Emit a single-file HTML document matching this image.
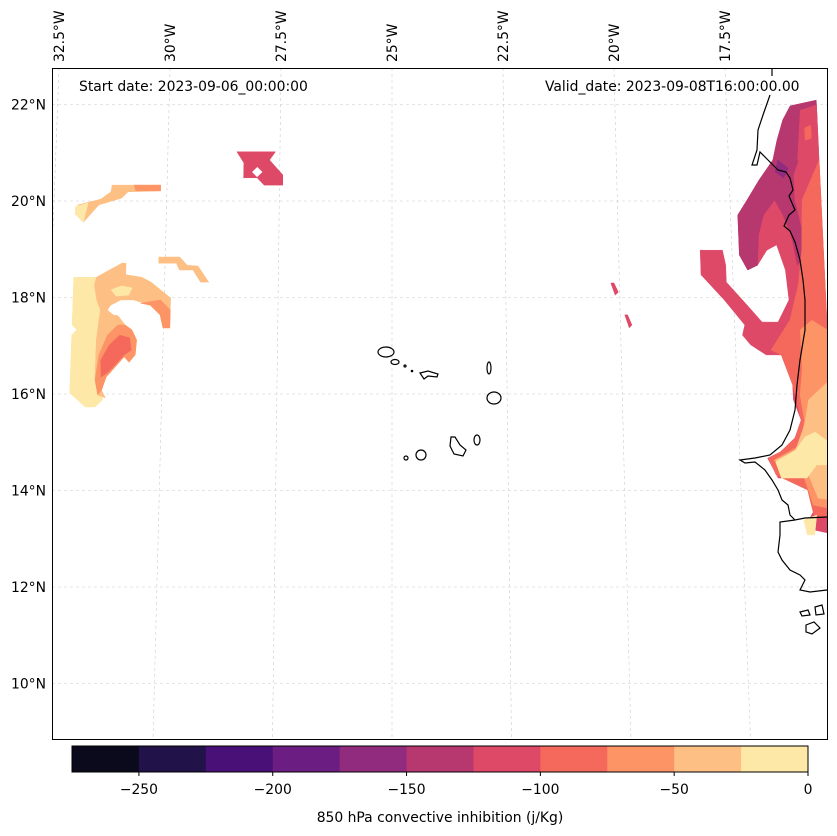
<!DOCTYPE html>
<html><head><meta charset="utf-8"><style>
html,body{margin:0;padding:0;background:#fff;}
svg{display:block;font-family:"DejaVu Sans","Liberation Sans",sans-serif;}
</style></head><body>
<svg id="chart" width="837" height="836" viewBox="0 0 837 836" xmlns="http://www.w3.org/2000/svg">
<defs><clipPath id="mapclip"><rect x="52.5" y="68.5" width="775" height="671"/></clipPath></defs>
<g id="grid" clip-path="url(#mapclip)"></g>
<g id="fills" clip-path="url(#mapclip)"></g>
<g id="coast" clip-path="url(#mapclip)" fill="none" stroke="#000" stroke-width="1.2">
<path d="M772,68 L772,76 M770,95 L763,115 L758,130 L757,150 L752,165 L757,165 L760,152 L768,160 L778,170 L786,172 L790,178 L793,190 L789,196 L795,210 L789,215 L784,226 L790,231 L795,242 L800,260 L803,280 L805,300 L805,330 L800,360 L797,385 L795,410 L790,430 L782,445 L770,455 L755,458 L740,460 L745,463 L755,462 L765,470 L772,480 L778,490 L782,500 L788,505 L790,515 L795,520 L805,518 L827,517 M795,520 L780,522 L780,535 L778,552 L782,560 L790,570 L800,575 L805,580 L800,590 L810,592 L827,590"/>
<path d="M800,612 L808,610 L810,615 L802,616 Z M815,607 L822,605 L824,614 L816,615 Z M806,625 L814,622 L820,628 L812,634 L806,632 Z"/>
</g>
<g id="islands" fill="none" stroke="#000" stroke-width="1.2">
<ellipse cx="386" cy="352" rx="8" ry="5"/>
<ellipse cx="395" cy="362" rx="4" ry="2.5"/>
<circle cx="405" cy="366" r="1"/>
<circle cx="412" cy="371" r="0.7"/>
<path d="M420,373 L428,371 L438,374 L437,377 L428,376 L424,379 Z"/>
<ellipse cx="489" cy="368" rx="2" ry="6"/>
<ellipse cx="494" cy="398" rx="7" ry="6"/>
<ellipse cx="477" cy="440" rx="3" ry="5"/>
<path d="M451,437 L455,437 L460,445 L466,450 L463,456 L454,454 L450,446 Z"/>
<ellipse cx="421" cy="455" rx="5" ry="5"/>
<circle cx="406" cy="458" r="2"/>
</g>
<rect x="52.5" y="68.5" width="775" height="671" fill="none" stroke="#000" stroke-width="1"/>
<text x="79" y="91" font-size="13.9">Start date: 2023-09-06_00:00:00</text>
<text x="545" y="91" font-size="13.9">Valid_date: 2023-09-08T16:00:00.00</text>
<g id="latlabels" font-size="13.9" text-anchor="end"></g>
<g id="lonlabels" font-size="13.9"></g>
<g id="cbar"></g>
<text x="440" y="822" font-size="13.9" text-anchor="middle">850 hPa convective inhibition (j/Kg)</text>
</svg>
<script>
// ---- data ----
const levelBounds = [-275,-250,-225,-200,-175,-150,-125,-100,-75,-50,-25,0];
const levelColors = ['#0b0a1d','#21134a','#491078','#6b1d81','#912b7e','#b7376f','#de4968','#f5695c','#fd9466','#febf84','#fde8a8'];
const cbarTicks = [-250,-200,-150,-100,-50,0];
const latTicks = [22,20,18,16,14,12,10];
const lonTicks = [-32.5,-30,-27.5,-25,-22.5,-20,-17.5];
const regionValues = [-40,-10,-60, -10,-40,-10,-60,-60,-85,-40, -110,null,-110,-110, -110,-140,-110,-85,-160,-85,-60,-40,-10,-10];
const regionShapes = [
[[-31.22,20.33],[-30.14,20.33],[-30.14,20.21],[-30.86,20.19],[-31.00,20.06],[-31.50,19.92],[-31.83,19.56],[-32.02,19.73],[-31.96,19.92],[-31.46,20.04],[-31.24,20.19]],
[[-32.02,19.88],[-31.74,19.96],[-31.83,19.56],[-32.02,19.73]],
[[-30.73,20.33],[-30.14,20.33],[-30.14,20.21],[-30.69,20.21]],
[[-32.00,18.42],[-31.50,18.42],[-30.95,18.71],[-30.86,18.71],[-30.86,18.47],[-30.51,18.42],[-30.30,18.32],[-29.86,17.99],[-29.86,17.37],[-30.01,17.37],[-30.08,17.64],[-30.30,17.84],[-30.67,17.95],[-30.95,17.95],[-31.17,17.84],[-31.24,17.74],[-31.11,17.64],[-31.00,17.62],[-30.84,17.43],[-30.69,17.33],[-30.58,17.12],[-30.60,16.81],[-30.73,16.66],[-30.84,16.77],[-31.22,16.35],[-31.31,16.08],[-31.28,15.88],[-31.44,15.73],[-31.65,15.73],[-32.00,16.02],[-32.00,17.22],[-31.89,17.33],[-32.00,17.43]],
[[-31.50,18.42],[-30.95,18.71],[-30.86,18.71],[-30.86,18.47],[-30.51,18.42],[-30.30,18.32],[-29.86,17.99],[-29.86,17.37],[-30.01,17.37],[-30.08,17.64],[-30.30,17.84],[-30.67,17.95],[-30.95,17.95],[-31.17,17.84],[-31.24,17.74],[-31.11,17.64],[-31.00,17.62],[-30.84,17.43],[-30.69,17.33],[-30.58,17.12],[-30.60,16.81],[-30.73,16.66],[-30.84,16.77],[-31.22,16.35],[-31.31,16.08],[-31.22,15.92],[-31.39,15.98],[-31.46,16.33],[-31.46,17.12],[-31.39,17.74],[-31.48,17.95],[-31.54,18.26]],
[[-31.17,18.16],[-30.95,18.24],[-30.71,18.20],[-30.78,18.05],[-31.06,18.03]],
[[-31.00,17.43],[-30.84,17.43],[-30.69,17.33],[-30.58,17.12],[-30.60,16.81],[-30.73,16.66],[-30.84,16.77],[-31.22,16.35],[-31.31,16.08],[-31.39,15.98],[-31.46,16.29],[-31.39,16.81],[-31.22,17.22]],
[[-30.51,17.88],[-30.30,17.84],[-30.08,17.64],[-30.01,17.37],[-29.86,17.37],[-29.86,17.74],[-30.08,17.95]],
[[-30.95,17.22],[-30.73,17.16],[-30.69,16.91],[-30.84,16.81],[-31.17,16.46],[-31.33,16.35],[-31.35,16.70],[-31.17,17.02]],
[[-30.14,18.84],[-29.68,18.84],[-29.51,18.67],[-29.27,18.65],[-29.03,18.32],[-29.21,18.32],[-29.38,18.57],[-29.68,18.57],[-29.75,18.71],[-30.14,18.71]],
[[-28.46,21.02],[-27.60,21.02],[-27.73,20.85],[-27.43,20.54],[-27.43,20.33],[-27.84,20.33],[-28.00,20.48],[-28.30,20.48],[-28.30,20.79]],
[[-28.00,20.70],[-27.89,20.60],[-28.00,20.50],[-28.11,20.60]],
[[-20.19,18.30],[-20.12,18.30],[-20.03,18.11],[-20.10,18.05]],
[[-19.90,17.64],[-19.84,17.64],[-19.75,17.43],[-19.81,17.37]],
[[-16.07,21.97],[-15.48,22.09],[-15.48,13.08],[-15.96,13.18],[-16.07,13.39],[-15.94,13.60],[-16.03,14.01],[-16.12,14.42],[-16.34,14.26],[-16.69,14.26],[-16.90,14.67],[-16.62,14.80],[-16.29,15.09],[-16.14,15.46],[-16.29,15.88],[-16.29,16.19],[-16.51,16.81],[-16.84,16.81],[-17.17,17.02],[-17.34,17.22],[-17.28,17.43],[-17.71,17.95],[-18.20,18.47],[-18.20,18.98],[-17.71,18.98],[-17.65,18.67],[-17.65,18.32],[-17.21,17.84],[-16.90,17.49],[-16.55,17.49],[-16.29,17.95],[-16.34,18.57],[-16.51,19.09],[-16.73,18.98],[-16.95,18.67],[-17.17,18.57],[-17.34,18.88],[-17.34,19.71],[-17.12,20.02],[-16.84,20.43],[-16.51,20.85],[-16.40,21.26],[-16.25,21.68]],
[[-16.07,21.97],[-15.48,22.09],[-15.48,21.68],[-15.85,21.06],[-16.07,20.54],[-16.07,20.02],[-15.96,19.50],[-15.81,18.98],[-16.07,18.67],[-16.18,19.30],[-16.34,19.71],[-16.51,20.02],[-16.77,19.71],[-16.90,19.30],[-16.95,18.67],[-17.17,18.57],[-17.34,18.88],[-17.34,19.71],[-17.12,20.02],[-16.84,20.43],[-16.51,20.85],[-16.40,21.26],[-16.25,21.68]],
[[-15.85,21.88],[-15.48,21.99],[-15.48,21.06],[-15.81,20.64],[-15.96,20.85]],
[[-15.77,21.51],[-15.63,21.57],[-15.63,21.30],[-15.77,21.26]],
[[-16.40,20.85],[-16.18,20.68],[-16.29,20.48],[-16.47,20.60]],
[[-15.90,20.02],[-15.48,20.85],[-15.48,13.39],[-15.96,13.49],[-16.07,14.01],[-16.73,14.32],[-16.88,14.67],[-16.62,14.80],[-16.29,15.09],[-16.14,15.46],[-16.29,16.19],[-16.51,16.81],[-16.73,16.91],[-16.29,17.53],[-16.07,18.26],[-15.96,18.98]],
[[-16.07,17.33],[-15.81,17.53],[-15.48,17.33],[-15.48,13.60],[-15.96,13.70],[-16.18,14.42],[-16.62,14.42],[-16.77,14.63],[-16.18,14.94],[-16.07,15.46],[-16.14,15.98],[-16.07,16.50]],
[[-15.96,15.88],[-15.48,16.29],[-15.48,13.80],[-15.85,13.84],[-16.07,14.42],[-16.62,14.42],[-16.73,14.63],[-16.29,14.84],[-16.07,15.36]],
[[-16.29,14.84],[-16.07,15.11],[-15.85,15.21],[-15.48,14.94],[-15.48,14.53],[-15.85,14.53],[-16.07,14.26],[-16.62,14.26],[-16.73,14.59]],
[[-16.18,13.39],[-15.90,13.49],[-15.96,13.08],[-16.12,13.08]]
];
// ---- projection / axis functions ----
const NS='http://www.w3.org/2000/svg';
function yOf(lat){return 394-(lat-16)*48.25;}
function xOf(lon,lat){const y=yOf(lat);return 392+(lon+25)*(44.4+(y-68)/671*3.4);}
function colorOf(v){if(v===null)return '#ffffff';let i=Math.floor((v-levelBounds[0])/25);i=Math.max(0,Math.min(levelColors.length-1,i));return levelColors[i];}
function cbX(v){return 72+(v-levelBounds[0])/(levelBounds[levelBounds.length-1]-levelBounds[0])*736;}
function mk(tag,attrs,parent){const e=document.createElementNS(NS,tag);for(const k in attrs)e.setAttribute(k,attrs[k]);parent.appendChild(e);return e;}
// graticule
const grid=document.getElementById('grid');
latTicks.forEach(lat=>{
  const l=mk('line',{x1:52,x2:828,y1:yOf(lat),y2:yOf(lat),stroke:'#cccccc','stroke-width':0.6,'stroke-dasharray':'3,3'},grid);
  
  
});
lonTicks.forEach(lon=>{
  const l=mk('line',{x1:xOf(lon,22.78),y1:68,x2:xOf(lon,8.87),y2:739,stroke:'#cccccc','stroke-width':0.6,'stroke-dasharray':'3,3'},grid);
  
  
});
// fills
const fills=document.getElementById('fills');
regionShapes.forEach((shape,i)=>{
  const pts=shape.map(p=>xOf(p[0],p[1]).toFixed(1)+','+yOf(p[1]).toFixed(1)).join(' ');
  const p=mk('polygon',{points:pts,fill:colorOf(regionValues[i]),stroke:colorOf(regionValues[i]),'stroke-width':0.5},fills);
  
  
});
// labels
const latG=document.getElementById('latlabels');
latTicks.forEach(lat=>{
  const t=mk('text',{x:46,y:yOf(lat)+5},latG);t.textContent=lat+'°N';
  
  
});
const lonG=document.getElementById('lonlabels');
lonTicks.forEach(lon=>{
  const x=xOf(lon,22.78)+5;
  const t=mk('text',{x:x,y:62,transform:'rotate(-90 '+x+' 62)'},lonG);t.textContent=Math.abs(lon)+'°W';
  
  
});
// colorbar
const cb=document.getElementById('cbar');
levelColors.forEach((c,i)=>{
  const r=mk('rect',{x:cbX(levelBounds[i]),y:746,width:cbX(levelBounds[i+1])-cbX(levelBounds[i])+0.5,height:26,fill:c},cb);
  
  
});
mk('rect',{x:72,y:746,width:736,height:26,fill:'none',stroke:'#000','stroke-width':1},cb);
cbarTicks.forEach(v=>{
  const l=mk('line',{x1:cbX(v),x2:cbX(v),y1:772,y2:776,stroke:'#000'},cb);
  
  
  const t=mk('text',{x:cbX(v),y:794,'font-size':13.9,'text-anchor':'middle'},cb);
  t.textContent=v<0?'\u2212'+Math.abs(v):String(v);
  
  
});
</script>
</body></html>
